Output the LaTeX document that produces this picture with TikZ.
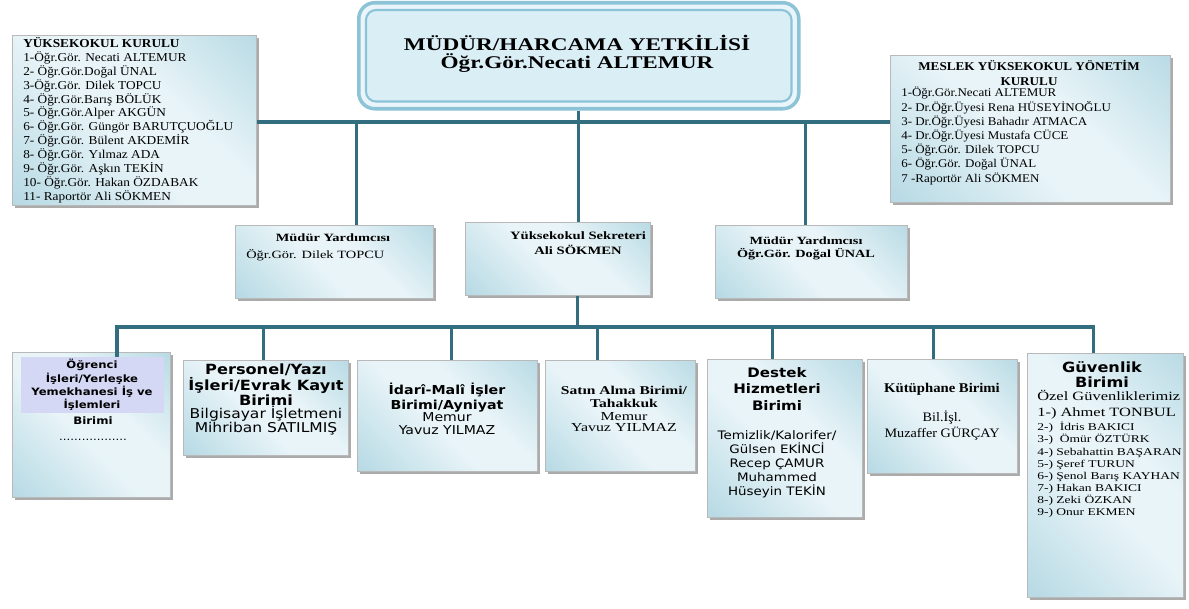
\documentclass[tikz,border=0pt]{standalone}
\usepackage{fontspec}
\setmainfont{Liberation Serif}
\newfontfamily\srf[FakeStretch=1.1]{Liberation Serif}
\newfontfamily\hds[FakeStretch=1.3]{Liberation Serif}
\newfontfamily\vrd[FakeStretch=1.15]{DejaVu Sans}
\usetikzlibrary{shadows}

\newdimen\px \px=0.025cm
\newcommand\fs[2]{\fontsize{#1}{#2}\selectfont}

\definecolor{boxdark}{RGB}{158,204,218}
\definecolor{boxlight}{RGB}{232,244,248}
\definecolor{linecol}{RGB}{50,110,128}
\definecolor{headedge}{RGB}{140,195,215}
\definecolor{headfill}{RGB}{218,238,246}
\definecolor{lavender}{RGB}{212,216,245}
\pgfdeclarehorizontalshading{boxshade}{100bp}{color(0bp)=(boxdark); color(45bp)=(boxlight); color(60bp)=(boxlight); color(100bp)=(boxdark)}

\tikzset{
  orgbox/.style={shading=boxshade, shading angle=45, draw=gray!55, line width=0.4pt,
    inner sep=0pt, anchor=north west,
    drop shadow={shadow xshift=3\px, shadow yshift=-3\px, fill=black!60, opacity=0.55}},
  headbox/.style={draw=headedge, line width=2.5pt, fill=headfill!60!white,
    rounded corners=16\px, inner sep=0pt, anchor=north west},
  conn/.style={draw=linecol, line width=2.4pt},
  txt/.style={inner sep=0pt},
}

\begin{document}
\begin{tikzpicture}[x=0.025cm, y=-0.025cm]
\useasboundingbox (0,0) rectangle (1189,609);
\fill[white] (0,0) rectangle (1189,609);

% top row
\node[headbox, minimum width=440\px, minimum height=106\px] (head) at (357,1) {};
\draw[headedge, line width=1.5pt, rounded corners=10\px, fill=headfill]
  ([shift={(9,9)}]head.north west) rectangle ([shift={(-9,-9)}]head.south east);
\node[txt, align=center, font=\hds\bfseries\fs{12.7}{13}] (headt) at (577,54)
  {MÜDÜR/HARCAMA YETKİLİSİ\\Öğr.Gör.Necati ALTEMUR};

\node[orgbox, minimum width=244\px, minimum height=170\px] (kurul) at (12,35) {};
\node[txt, anchor=north west, align=left, font=\srf\fs{8.6}{9.9}] (kurult) at (23,37)
  {\textbf{YÜKSEKOKUL KURULU}\\1-Öğr.Gör. Necati ALTEMUR\\2- Öğr.Gör.Doğal ÜNAL\\
   3-Öğr.Gör. Dilek TOPCU\\4- Öğr.Gör.Barış BÖLÜK\\5- Öğr.Gör.Alper AKGÜN\\
   6- Öğr.Gör. Güngör BARUTÇUOĞLU\\7- Öğr.Gör. Bülent AKDEMİR\\8- Öğr.Gör. Yılmaz ADA\\
   9- Öğr.Gör. Aşkın TEKİN\\10- Öğr.Gör. Hakan ÖZDABAK\\11- Raportör Ali SÖKMEN};

\node[orgbox, minimum width=280\px, minimum height=147\px] (meslek) at (890,55) {};
\node[txt, anchor=north, align=center, font=\srf\bfseries\fs{8.5}{10.7}] (meslekt) at (1029,60)
  {MESLEK YÜKSEKOKUL YÖNETİM\\KURULU};
\node[txt, anchor=north west, align=left, font=\srf\fs{8.4}{10.1}] (meslekl) at (901,87)
  {1-Öğr.Gör.Necati ALTEMUR\\2- Dr.Öğr.Üyesi Rena HÜSEYİNOĞLU\\3- Dr.Öğr.Üyesi Bahadır ATMACA\\
   4- Dr.Öğr.Üyesi Mustafa CÜCE\\5- Öğr.Gör. Dilek TOPCU\\6- Öğr.Gör. Doğal ÜNAL\\
   7 -Raportör Ali SÖKMEN};

% middle row
\node[orgbox, minimum width=198\px, minimum height=73\px] (yardl) at (235,225) {};
\node[txt, font=\hds\bfseries\fs{7.9}{9}] (yardlt) at (333,238) {Müdür Yardımcısı};
\node[txt, anchor=west, font=\hds\fs{7.9}{9}] (yardln) at (246,255) {Öğr.Gör. Dilek TOPCU};

\node[orgbox, minimum width=185\px, minimum height=73\px] (sekr) at (465,222) {};
\node[txt, anchor=north, align=center, font=\hds\bfseries\fs{8}{10.7}] (sekrt) at (578,231)
  {Yüksekokul Sekreteri\\Ali SÖKMEN};

\node[orgbox, minimum width=192\px, minimum height=73\px] (yardr) at (715,225) {};
\node[txt, anchor=north, align=center, font=\hds\bfseries\fs{7.8}{9}] (yardrt) at (806,237)
  {Müdür Yardımcısı\\Öğr.Gör. Doğal ÜNAL};

% bottom row
\node[orgbox, minimum width=158\px, minimum height=145\px] (ogr) at (12,352) {};
\node[anchor=north, align=center, fill=lavender, inner xsep=0pt, inner ysep=1.5pt,
  minimum width=143\px, font=\vrd\bfseries\fs{7.2}{9.5}] (ogrh) at (92,357)
  {Öğrenci\\İşleri/Yerleşke\\Yemekhanesi İş ve\\İşlemleri};
\node[txt, anchor=north, align=center, font=\vrd\bfseries\fs{7.3}{9.5}] (ogrt) at (93,416)
  {Birimi\\[2pt]{\mdseries ..................}};

\node[orgbox, minimum width=165\px, minimum height=95\px] (pers) at (183,360) {};
\node[txt, anchor=north, align=center, font=\vrd\bfseries\fs{10}{10.7}] (perst) at (266,364)
  {Personel/Yazı\\İşleri/Evrak Kayıt\\Birimi};
\node[txt, anchor=north, align=center, font=\vrd\fs{9.6}{10}] (persn) at (266,406)
  {Bilgisayar İşletmeni\\Mihriban SATILMIŞ};

\node[orgbox, minimum width=180\px, minimum height=111\px] (idari) at (357,360) {};
\node[txt, anchor=north, align=center, font=\vrd\bfseries\fs{8.8}{10.7}] (idarit) at (447,383)
  {İdarî-Malî İşler\\Birimi/Ayniyat};
\node[txt, anchor=north, align=center, font=\vrd\fs{8.7}{9.2}] (idarin) at (447,412)
  {Memur\\Yavuz YILMAZ};

\node[orgbox, minimum width=150\px, minimum height=111\px] (satin) at (545,360) {};
\node[txt, anchor=north, align=center, font=\hds\bfseries\fs{8.5}{9.2}] (satint) at (624,386)
  {Satın Alma Birimi/\\Tahakkuk};
\node[txt, anchor=north, align=center, font=\hds\fs{8.7}{8}] (satinn) at (624,412)
  {Memur\\Yavuz YILMAZ};

\node[orgbox, minimum width=155\px, minimum height=158\px] (destek) at (707,359) {};
\node[txt, anchor=north, align=center, font=\vrd\bfseries\fs{9.3}{11.7}] (destekt) at (777,367)
  {Destek\\Hizmetleri\\Birimi};
\node[txt, anchor=north, align=center, font=\vrd\fs{8.3}{10.1}] (destekn) at (777,430)
  {Temizlik/Kalorifer/\\Gülsen EKİNCİ\\Recep ÇAMUR\\Muhammed\\Hüseyin TEKİN};

\node[orgbox, minimum width=150\px, minimum height=114\px] (kutup) at (867,359) {};
\node[txt, font=\srf\bfseries\fs{9.5}{11}] (kutupt) at (942,389) {Kütüphane Birimi};
\node[txt, anchor=north, align=center, font=\srf\fs{9.2}{11.4}] (kutupn) at (942,411)
  {Bil.İşl.\\Muzaffer GÜRÇAY};

\node[orgbox, minimum width=156\px, minimum height=244\px] (guv) at (1027,353) {};
\node[txt, anchor=north, align=center, font=\vrd\bfseries\fs{10}{10.7}] (guvt) at (1102,361)
  {Güvenlik\\Birimi};
\node[txt, anchor=north west, align=left, font=\hds\fs{9}{11.4}] (guva) at (1037,390)
  {Özel Güvenliklerimiz\\1-) Ahmet TONBUL};
\node[txt, anchor=north west, align=left, font=\hds\fs{7.4}{8.6}] (guvl) at (1037,422)
  {2-)\ \ İdris BAKICI\\3-)\ \ Ömür ÖZTÜRK\\4-) Sebahattin BAŞARAN\\5-) Şeref TURUN\\
   6-) Şenol Barış KAYHAN\\7-) Hakan BAKICI\\8-) Zeki ÖZKAN\\9-) Onur EKMEN};

% connectors
\coordinate (hb) at (577,122);
\coordinate (bus) at (577,327);
\draw[conn] (kurul.east |- hb) -- (meslek.west |- hb);
\draw[conn] (head.south) -- (head.south |- sekr.north);
\draw[conn] ([xshift=22\px]yardl.north) -- ([xshift=22\px]yardl.north |- hb);
\draw[conn] ([xshift=-6\px]yardr.north) -- ([xshift=-6\px]yardr.north |- hb);
\draw[conn] ([xshift=19.5\px]sekr.south) -- ([xshift=19.5\px]sekr.south |- bus);
\draw[conn] ([xshift=25\px]ogrh.north) |- (bus) -| ([xshift=-12\px]guv.north);
\foreach \n/\s in {pers/-2.5, idari/4, satin/-23, destek/-12.5, kutup/-9}
  \draw[conn] ([xshift=\s\px]\n.north) -- ([xshift=\s\px]\n.north |- bus);
\end{tikzpicture}
\end{document}
